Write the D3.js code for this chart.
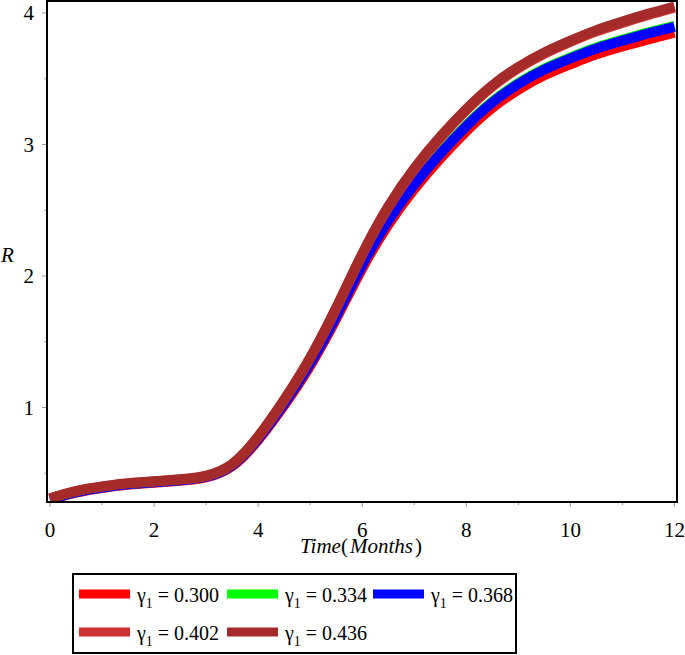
<!DOCTYPE html>
<html>
<head>
<meta charset="utf-8">
<script src="https://cdn.jsdelivr.net/npm/d3@7"></script>
<style>
  html, body { margin: 0; padding: 0; background: #fff; }
  svg { display: block; }
</style>
</head>
<body>
<svg id="chart" width="685" height="655"></svg>
<script>
// ---- data ----
const times = [0,0.5,1,1.5,2,2.5,3,3.5,4,4.5,5,5.5,6,6.5,7,7.5,8,8.5,9,9.5,10,10.5,11,11.5,12];
const r436 = [0.31,0.365,0.40,0.425,0.44,0.455,0.482,0.57,0.78,1.06,1.38,1.76,2.17,2.53,2.82,3.06,3.27,3.45,3.59,3.70,3.79,3.87,3.935,3.995,4.05];
const r402 = [0.309,0.364,0.398,0.423,0.437,0.452,0.479,0.566,0.775,1.054,1.372,1.75,2.16,2.52,2.81,3.05,3.26,3.44,3.58,3.69,3.78,3.86,3.925,3.985,4.04];
const r368 = [0.302,0.357,0.392,0.417,0.432,0.447,0.474,0.56,0.762,1.03,1.335,1.695,2.085,2.42,2.695,2.93,3.14,3.32,3.46,3.57,3.655,3.73,3.79,3.845,3.895];
const r334 = [0.304,0.359,0.394,0.419,0.434,0.449,0.476,0.562,0.766,1.035,1.341,1.702,2.093,2.428,2.703,2.938,3.148,3.328,3.468,3.578,3.663,3.738,3.798,3.853,3.903];
const r300 = [0.298,0.353,0.388,0.412,0.427,0.442,0.468,0.553,0.752,1.016,1.317,1.673,2.057,2.388,2.66,2.893,3.1,3.278,3.417,3.526,3.61,3.686,3.746,3.8,3.85];
const seriesNames = ["0.300","0.334","0.368","0.402","0.436"];
const seriesColors = ["#ff0000","#00ff00","#0000ff","#cd3333","#a52a2a"];
const seriesValues = [r300, r334, r368, r402, r436];
const xTicks = [0,2,4,6,8,10,12];
const xMinor = [1,3,5,7,9,11];
const yTicks = [1,2,3,4];
const yMinor = [0.5,1.5,2.5,3.5];

const FONT = "'Liberation Serif'";
function txt(sel, size) {
  return sel.style("font-family", FONT).style("font-size", size + "px").style("fill", "#000");
}

// ---- layout ----
const svg = d3.select("#chart");
svg.append("rect").attr("width",685).attr("height",655).attr("fill","#fff");
const frame = {left:47, right:677, top:1, bottom:502};
const x = d3.scaleLinear().domain([0,12]).range([50,674.5]);
const y = d3.scaleLinear().domain([1,4]).range([407.5,13]);

svg.append("clipPath").attr("id","clip").append("rect")
  .attr("x",frame.left).attr("y",frame.top)
  .attr("width",frame.right-frame.left).attr("height",frame.bottom-frame.top);

// ticks
const tickColor = "#999";
const gx = svg.append("g");
gx.selectAll("line.maj").data(xTicks).join("line")
  .attr("x1",d=>x(d)).attr("x2",d=>x(d)).attr("y1",frame.bottom).attr("y2",frame.bottom+5)
  .attr("stroke",tickColor).attr("stroke-width",1);
gx.selectAll("line.min").data(xMinor).join("line")
  .attr("x1",d=>x(d)).attr("x2",d=>x(d)).attr("y1",frame.bottom).attr("y2",frame.bottom+3)
  .attr("stroke",tickColor).attr("stroke-width",1);
txt(gx.selectAll("text").data(xTicks).join("text")
  .attr("x",d=>x(d)).attr("y",537).attr("text-anchor","middle").text(d=>d), 21);

const gy = svg.append("g");
gy.selectAll("line.maj").data(yTicks).join("line")
  .attr("x1",frame.left-5).attr("x2",frame.left).attr("y1",d=>y(d)).attr("y2",d=>y(d))
  .attr("stroke",tickColor).attr("stroke-width",1);
gy.selectAll("line.min").data(yMinor).join("line")
  .attr("x1",frame.left-3).attr("x2",frame.left).attr("y1",d=>y(d)).attr("y2",d=>y(d))
  .attr("stroke",tickColor).attr("stroke-width",1);
txt(gy.selectAll("text").data(yTicks).join("text")
  .attr("x",34).attr("y",d=>y(d)+7).attr("text-anchor","end").text(d=>d), 21);

// curves
const line = d3.line().x(d=>x(d[0])).y(d=>y(d[1])).curve(d3.curveNatural);
const gl = svg.append("g").attr("clip-path","url(#clip)");
seriesValues.forEach((vals,i)=>{
  gl.append("path")
    .datum(times.map((t,j)=>[t, vals[j]]))
    .attr("d",line).attr("fill","none")
    .attr("stroke",seriesColors[i]).attr("stroke-width",10)
    .attr("stroke-linecap","butt").attr("stroke-linejoin","round");
});

// frame
svg.append("rect").attr("x",frame.left).attr("y",frame.top)
  .attr("width",frame.right-frame.left).attr("height",frame.bottom-frame.top)
  .attr("fill","none").attr("stroke","#000").attr("stroke-width",2);

// axis labels
txt(svg.append("text").attr("x",1).attr("y",262), 21).style("font-style","italic").text("R");
const xl = txt(svg.append("text").attr("x",361).attr("y",553).attr("text-anchor","middle"), 21)
  .attr("xml:space","preserve");
xl.append("tspan").style("font-style","italic").text("Time");
xl.append("tspan").text("(");
xl.append("tspan").style("font-style","italic").attr("dx",2).text("Months");
xl.append("tspan").attr("dx",2).text(")");

// legend
const leg = svg.append("g");
leg.append("rect").attr("x",73).attr("y",574).attr("width",443).attr("height",79)
  .attr("fill","#fff").attr("stroke","#000").attr("stroke-width",2);
const colX = [79,227,373];
const rowY = [594,632];
seriesNames.forEach((name,i)=>{
  const cx = colX[i%3], ry = rowY[Math.floor(i/3)];
  leg.append("line").attr("x1",cx).attr("x2",cx+51).attr("y1",ry).attr("y2",ry)
    .attr("stroke",seriesColors[i]).attr("stroke-width",9);
  const t = txt(leg.append("text").attr("x",cx+58).attr("y",ry+8), 20);
  t.append("tspan").text("γ");
  t.append("tspan").style("font-size","14px").attr("dy",6).text("1");
  t.append("tspan").attr("dy",-6).text(" = " + name);
});
</script>
</body>
</html>
